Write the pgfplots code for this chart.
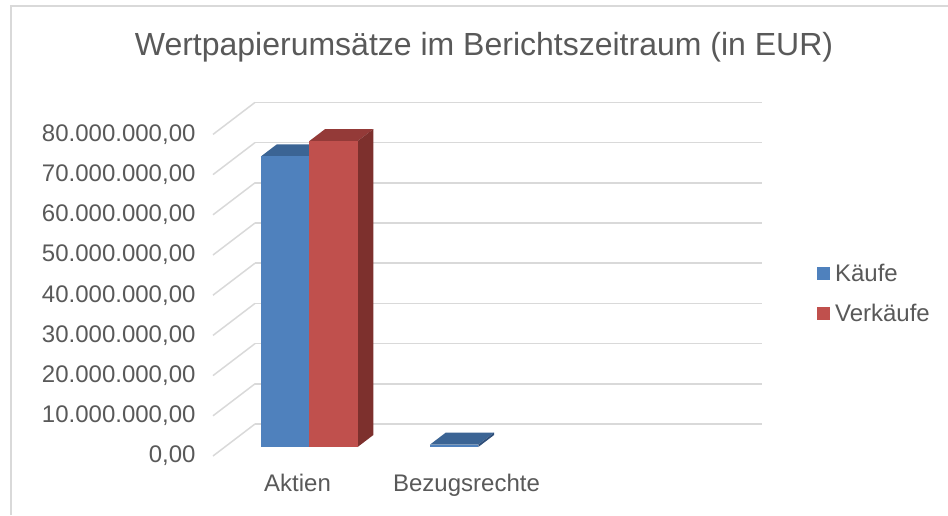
\documentclass[border=0pt]{standalone}
\usepackage{pgfplots}
\pgfplotsset{compat=1.18}
\usepackage{pgfplotstable}
\usepackage{fontspec}
\setmainfont{Liberation Sans}
\definecolor{txt}{HTML}{595959}
\definecolor{gridc}{HTML}{D9D9D9}
\definecolor{bFront}{HTML}{4F81BD}
\definecolor{bTop}{HTML}{3B6494}
\definecolor{bSide}{HTML}{2F4F7A}
\definecolor{rFront}{HTML}{C0504D}
\definecolor{rTop}{HTML}{943A38}
\definecolor{rSide}{HTML}{7D302D}

% Werte in Mio. EUR
\pgfplotstableread{
cat kaeufe verkaeufe
Aktien 72.3 76.1
Bezugsrechte 0.6 0
}\umsatz

\newcommand{\yA}{0.28}
\newcommand{\yB}{0.655}
% cuboid: x0, x1, h, front, top, side
\newcommand{\cuboid}[6]{%
 \addplot3[fill=#5, draw=none, forget plot] coordinates {(#1,\yA,#3) (#2,\yA,#3) (#2,\yB,#3) (#1,\yB,#3)} --cycle;
 \addplot3[fill=#6, draw=none, forget plot] coordinates {(#2,\yA,0) (#2,\yB,0) (#2,\yB,#3) (#2,\yA,#3)} --cycle;
 \addplot3[fill=#4, draw=none, forget plot] coordinates {(#1,\yA,0) (#2,\yA,0) (#2,\yA,#3) (#1,\yA,#3)} --cycle;
}

\begin{document}
\begin{tikzpicture}
\useasboundingbox (0,0) rectangle (948pt,515pt);
\draw[gridc, line width=1.5pt] (11pt,0pt) -- (11pt,509pt) -- (948pt,509pt);
\pgfplotstablegetelem{0}{kaeufe}\of\umsatz \let\AK\pgfplotsretval
\pgfplotstablegetelem{0}{verkaeufe}\of\umsatz \let\AV\pgfplotsretval
\pgfplotstablegetelem{1}{kaeufe}\of\umsatz \let\BK\pgfplotsretval
\begin{axis}[
  anchor=origin, at={(213pt,59pt)},
  x={(169pt,0pt)}, y={(42pt,32pt)}, z={(0pt,4.02pt)},
  xmin=0, xmax=3, ymin=0, ymax=1, zmin=0, zmax=80,
  xtick={0.5,1.5,2.5}, xticklabels={Aktien,Bezugsrechte,{}},
  ytick=\empty,
  ztick={0,10,...,80},
  zticklabels={{0,00},{10.000.000,00},{20.000.000,00},{30.000.000,00},{40.000.000,00},{50.000.000,00},{60.000.000,00},{70.000.000,00},{80.000.000,00}},
  zmajorgrids,
  grid style={draw=gridc, line width=1.5pt},
  axis line style={draw=none},
  tick style={draw=none},
  ticklabel style={font=\fontsize{24}{28}\selectfont, text=txt},
  every z tick label/.style={anchor=east, xshift=-14pt},
  every x tick label/.style={anchor=base, yshift=-35.5pt},
  clip=false,
  legend style={draw=none, at={(axis description cs:1.1,0.46)}, anchor=west,
    font=\fontsize{24}{28}\selectfont, text=txt, row sep=17pt, inner sep=0pt,
    /tikz/every odd column/.style={column sep=3pt}},
  legend cell align=left,
  legend image code/.code={\fill[#1, draw=none] (0pt,-6.5pt) rectangle (13pt,6.5pt);},
]
\cuboid{0.2143}{0.5}{\AK}{bFront}{bTop}{bSide}
\cuboid{0.5}{0.7857}{\AV}{rFront}{rTop}{rSide}
\cuboid{1.2143}{1.5}{\BK}{bFront}{bTop}{bSide}
\addlegendimage{fill=bFront}\addlegendentry{Käufe}
\addlegendimage{fill=rFront}\addlegendentry{Verkäufe}
\end{axis}
\node[font=\fontsize{32}{38}\selectfont, text=txt] at (484pt,468pt) {Wertpapierumsätze im Berichtszeitraum (in EUR)};
\end{tikzpicture}
\end{document}
